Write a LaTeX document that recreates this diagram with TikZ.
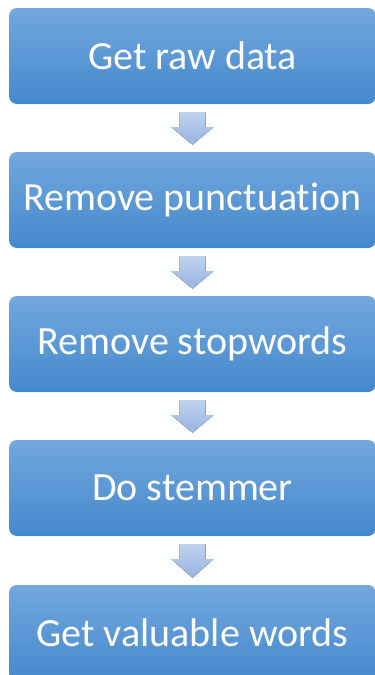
\documentclass[tikz,border=0pt]{standalone}
\usepackage{fontspec}
\setmainfont[Ligatures=NoCommon]{Carlito}
\usetikzlibrary{calc}
\definecolor{boxtop}{RGB}{114,168,222}
\definecolor{boxbot}{RGB}{68,136,204}
\definecolor{arrtop}{RGB}{190,210,237}
\definecolor{arrbot}{RGB}{150,180,224}
\tikzset{
  stepbox/.style={rectangle, rounded corners=8pt, minimum width=367pt, minimum height=96pt,
    top color=boxtop, bottom color=boxbot, draw=none, text=white, font=\fontsize{40}{44}\selectfont, inner sep=0pt},
  flowarrow/.style={top color=arrtop, bottom color=arrbot, draw=none}
}
\newcommand{\downarrowshape}[2]{%
  \fill[flowarrow] ($(#1.south)+(-13pt,-8pt)$) -- ($(#1.south)+(13pt,-8pt)$) -- ($(#1.south)+(13pt,-23pt)$)
   -- ($(#1.south)+(21pt,-23pt)$) -- ($(#2.north)+(0,7pt)$) -- ($(#1.south)+(-21pt,-23pt)$)
   -- ($(#1.south)+(-13pt,-23pt)$) -- cycle;}
\begin{document}
\begin{tikzpicture}[x=1pt,y=-1pt]
\useasboundingbox (0,0) rectangle (375,675);
\begin{scope}
\clip (0,0) rectangle (375,675);
\node[stepbox] (a) at (192.5,56) {Get raw data};
\node[stepbox] (b) at (192.5,200) {Remove punctuation};
\node[stepbox] (c) at (192.5,344) {Remove stopwords};
\node[stepbox] (d) at (192.5,488) {Do stemmer};
\node[stepbox] (e) at (192.5,633) {Get valuable words};
\downarrowshape{a}{b}
\downarrowshape{b}{c}
\downarrowshape{c}{d}
\downarrowshape{d}{e}
\end{scope}
\end{tikzpicture}
\end{document}
